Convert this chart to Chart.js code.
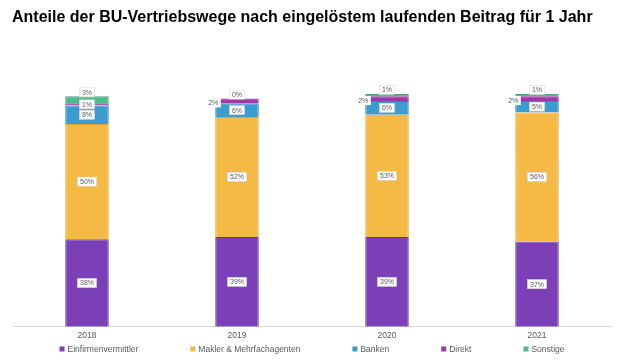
<!DOCTYPE html>
<html>
<head>
<meta charset="utf-8">
<script src="https://cdn.jsdelivr.net/npm/chart.js@4"></script>
<style>
  html, body { margin: 0; padding: 0; background: #fff; }
  #wrap { width: 621px; height: 361px; }
</style>
</head>
<body>
<div id="wrap"><canvas id="buChart" width="621" height="361"></canvas></div>
<script>
const years = ["2018", "2019", "2020", "2021"];

const einfirmen = [38, 39, 39, 37];
const makler = [50, 52, 53, 56];
const banken = [8, 6, 6, 5];
const direkt = [1, 2, 2, 2];
const sonstige = [3, 0, 1, 1];

const seriesNames = ["Einfirmenvermittler", "Makler & Mehrfachagenten", "Banken", "Direkt", "Sonstige"];
const seriesColors = ["#7b3fb8", "#f5b945", "#3b9ccf", "#9e38a9", "#4dbb8a"];
const borderColors = ["#6a30a3", "#e0a535", "#2e88b8", "#8a2c95", "#3ea478"];

const allSeries = [einfirmen, makler, banken, direkt, sonstige];

const FONT = "'Liberation Sans', Arial, sans-serif";

/* small white boxed labels on the segments */
const segmentLabels = {
  id: "segmentLabels",
  afterDatasetsDraw(chart) {
    const ctx = chart.ctx;
    ctx.save();
    ctx.font = "7px " + FONT;
    ctx.textAlign = "center";
    ctx.textBaseline = "middle";

    const drawBox = (text, x, y, border) => {
      const w = ctx.measureText(text).width + 5;
      const h = 9;
      ctx.fillStyle = "#ffffff";
      ctx.fillRect(x - w / 2, y - h / 2, w, h);
      if (border) {
        ctx.strokeStyle = "#d9d9d9";
        ctx.lineWidth = 0.6;
        ctx.strokeRect(x - w / 2, y - h / 2, w, h);
      }
      ctx.fillStyle = "#595959";
      ctx.fillText(text, x, y + 0.5);
    };

    years.forEach((yr, i) => {
      const top = chart.getDatasetMeta(4).data[i];
      const sonstigeY = top.y - 4;

      chart.data.datasets.forEach((ds, d) => {
        const bar = chart.getDatasetMeta(d).data[i];
        const text = ds.data[i] + "%";
        let x = bar.x;
        let y = (bar.y + bar.base) / 2;

        if (d === 4) {
          drawBox(text, x, sonstigeY, true);
        } else if (d === 3 && Math.abs(y - sonstigeY) < 10) {
          // no room: put it beside the bar
          drawBox(text, bar.x - bar.width / 2 - 2, y + 2, false);
        } else {
          drawBox(text, x, y, true);
        }
      });
    });
    ctx.restore();
  }
};

/* legend row at the bottom, spaced like the original */
const bottomLegend = {
  id: "bottomLegend",
  afterDraw(chart) {
    const ctx = chart.ctx;
    const gap = 52;
    const box = 5;
    ctx.save();
    ctx.font = "8.5px " + FONT;
    ctx.textBaseline = "middle";
    ctx.textAlign = "left";
    const items = chart.data.datasets.map(ds => ({
      text: ds.label,
      color: ds.backgroundColor,
      w: box + 3 + ctx.measureText(ds.label).width
    }));
    const total = items.reduce((s, it) => s + it.w, 0) + gap * (items.length - 1);
    let x = (chart.chartArea.left + chart.chartArea.right) / 2 - total / 2;
    const y = 349;
    items.forEach(it => {
      ctx.fillStyle = it.color;
      ctx.fillRect(x, y - box / 2, box, box);
      ctx.fillStyle = "#595959";
      ctx.fillText(it.text, x + box + 3, y + 0.5);
      x += it.w + gap;
    });
    ctx.restore();
  }
};

new Chart(document.getElementById("buChart"), {
  type: "bar",
  data: {
    labels: years,
    datasets: allSeries.map((vals, k) => ({
      label: seriesNames[k],
      data: vals,
      backgroundColor: seriesColors[k],
      borderColor: borderColors[k],
      borderWidth: 1,
      categoryPercentage: 1,
      barPercentage: 0.29
    }))
  },
  options: {
    responsive: false,
    animation: false,
    layout: { padding: { left: 12, right: 9, top: 4, bottom: 16 } },
    plugins: {
      title: {
        display: true,
        text: "Anteile der BU-Vertriebswege nach eingelöstem laufenden Beitrag für 1 Jahr",
        align: "start",
        color: "#000000",
        font: { family: FONT, size: 16, weight: "bold" },
        padding: { top: 4, bottom: 23 }
      },
      legend: { display: false },
      tooltip: { enabled: false }
    },
    scales: {
      x: {
        stacked: true,
        grid: { display: false, drawTicks: false },
        border: { color: "#d9d9d9" },
        ticks: {
          color: "#595959",
          padding: 4,
          font: { family: FONT, size: 8.5 }
        }
      },
      y: {
        stacked: true,
        min: 0,
        max: 120,
        display: false
      }
    }
  },
  plugins: [segmentLabels, bottomLegend]
});
</script>
</body>
</html>
